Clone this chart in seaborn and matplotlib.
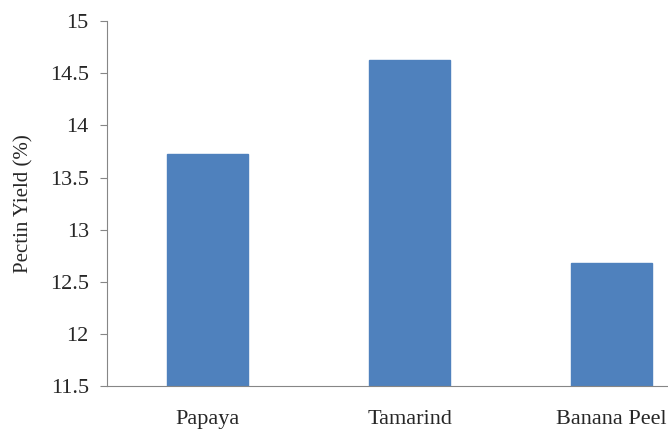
import matplotlib
matplotlib.use("Agg")
import matplotlib.pyplot as plt
import seaborn as sns
import pandas as pd
from matplotlib.ticker import FixedLocator

categories = ["Papaya", "Tamarind", "Banana Peel"]
yields = [13.73, 14.63, 12.68]
yticks = [11.5, 12, 12.5, 13, 13.5, 14, 14.5, 15]
ytick_labels = ["11.5", "12", "12.5", "13", "13.5", "14", "14.5", "15"]

sns.set_style("white")
plt.rcParams["font.family"] = ["Liberation Serif", "DejaVu Serif"]

df = pd.DataFrame({"Fruit": categories, "Yield": yields})

fig = plt.figure(figsize=(6.68, 4.30), dpi=100)
ax = fig.add_axes([0.160, 0.102, 0.907, 0.849])

sns.barplot(data=df, x="Fruit", y="Yield", color="#4F81BD", width=0.4,
            saturation=1, edgecolor="#4F81BD", ax=ax)

ax.set_xlim(-0.5, 2.5)
ax.set_ylim(11.5, 15)
ax.set_yticks(yticks)
ax.set_yticklabels(ytick_labels, fontsize=16)
ax.set_xticks(range(len(categories)))
ax.set_xticklabels(categories, fontsize=16)
ax.xaxis.set_minor_locator(FixedLocator([-0.5, 0.5, 1.5, 2.5]))
ax.tick_params(axis="x", which="major", length=0, pad=17)
ax.tick_params(axis="x", which="minor", length=5, color="#868686", width=0.8, direction="out")
ax.tick_params(axis="y", which="major", length=5, color="#868686", width=0.8,
               direction="out", pad=8, left=True)

ax.set_xlabel("")
ax.set_ylabel("Pectin Yield (%)", fontsize=15, labelpad=12)

for side in ["top", "right"]:
    ax.spines[side].set_visible(False)
for side in ["left", "bottom"]:
    ax.spines[side].set_color("#868686")
    ax.spines[side].set_linewidth(0.8)

fig.savefig("out.png", dpi=100)
